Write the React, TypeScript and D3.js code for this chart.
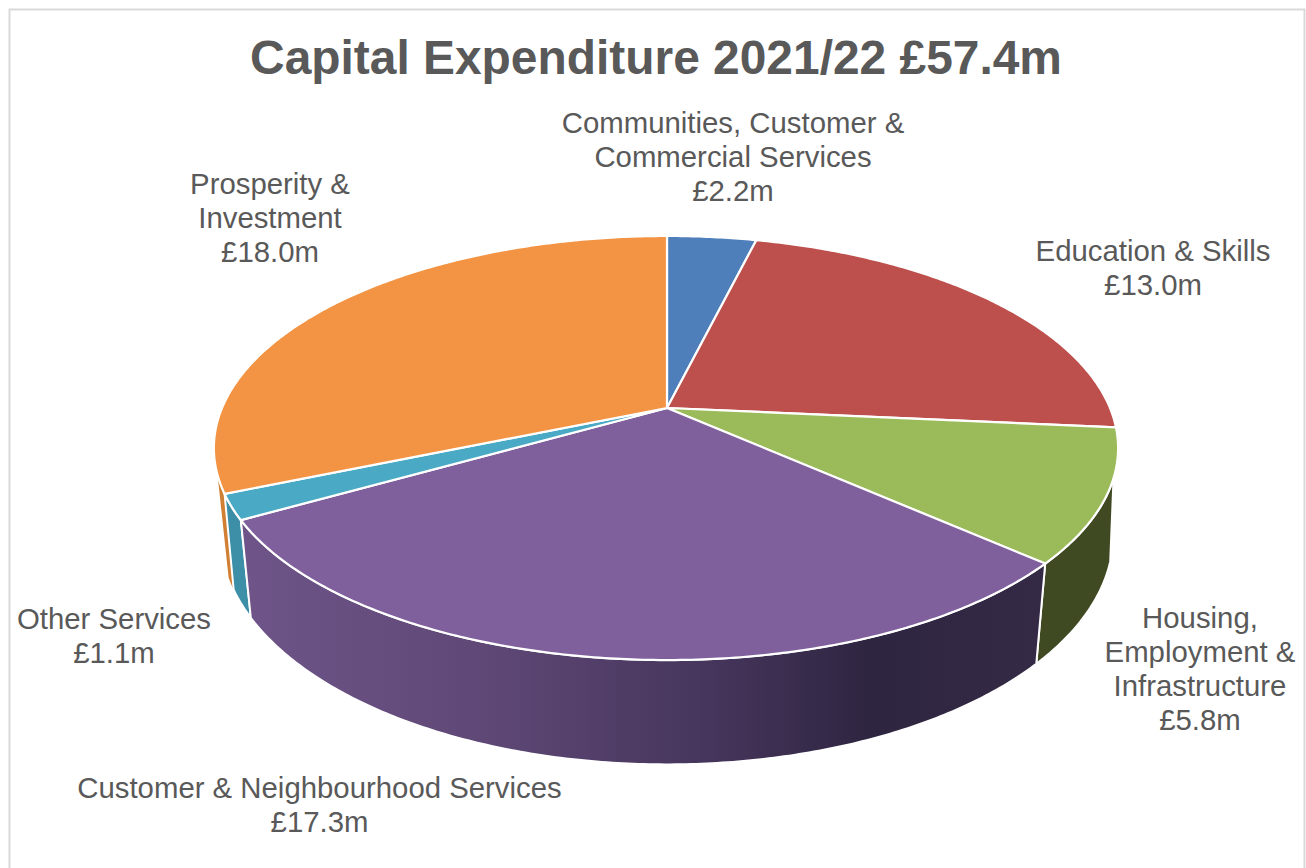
import React from "react";
import * as d3 from "d3";

const categories = [
  "Communities, Customer & Commercial Services",
  "Education & Skills",
  "Housing, Employment & Infrastructure",
  "Customer & Neighbourhood Services",
  "Other Services",
  "Prosperity & Investment",
];
const values = [2.2, 13.0, 5.8, 17.3, 1.1, 18.0];
const topColors = ["#4f7fbb", "#bd4f4c", "#9bba59", "#7f609c", "#4aaac5", "#f39444"];
const sideColors = ["#35557d", "#7e3533", "#3f4a22", "url(#purpleSide)", "#3d8fa8", "#d07f33"];
const labelLines = [
  ["Communities, Customer &", "Commercial Services", "£2.2m"],
  ["Education & Skills", "£13.0m"],
  ["Housing,", "Employment &", "Infrastructure", "£5.8m"],
  ["Customer & Neighbourhood Services", "£17.3m"],
  ["Other Services", "£1.1m"],
  ["Prosperity &", "Investment", "£18.0m"],
];
const labelAnchors: [number, number][] = [
  [733, 133], [1153, 261], [1200, 628], [319.5, 798], [114, 629], [270, 194],
];

const W = 1306, H = 868;
const topPlane = { cx: 667, cy: 408, a: 443, aLeft: 445, b: 204.5, k: -0.1887 };
const botPlane = { cx: 667, cy: 497, a: 440, aLeft: 440, b: 223, k: -0.166 };
const rad = Math.PI / 180;

function project(p: typeof topPlane, t: number): [number, number] {
  const X = Math.sin(t), Y = -Math.cos(t), d = 1 + p.k * Y;
  return [p.cx + ((X < 0 ? p.aLeft : p.a) * X) / d, p.cy + (p.b * Y) / d];
}
function arcPoints(p: typeof topPlane, a0: number, a1: number): [number, number][] {
  const n = Math.max(4, Math.ceil((a1 - a0) / 0.01));
  return d3.range(n + 1).map((i) => project(p, a0 + ((a1 - a0) * i) / n));
}

// angular range of each visible wall: on the top rim, then on the bottom rim
function wallPoints(i: number, a0: number, a1: number): [number, number][] {
  if (i === 5) {
    return [...arcPoints(topPlane, a0, 252 * rad), ...arcPoints(botPlane, a0, 250 * rad).reverse()];
  }
  if (i === 2) {
    return [...arcPoints(topPlane, 108.8 * rad, a1), ...arcPoints(botPlane, 106 * rad, a1).reverse()];
  }
  return [...arcPoints(topPlane, a0, a1), ...arcPoints(botPlane, a0, a1).reverse()];
}

export default function App() {
  const arcs = d3.pie<number>().sort(null)(values);
  const line = d3.line();
  const order = [5, 4, 2, 3];
  return (
    <svg width={W} height={H} style={{ position: "absolute", left: 0, top: 0, background: "#fff" }}
      fontFamily="'Liberation Sans', Arial, sans-serif">
      <defs>
        <linearGradient id="purpleSide" gradientUnits="userSpaceOnUse" x1="245" x2="1040" y1="0" y2="0">
          <stop offset="0" stopColor="#6e5488" />
          <stop offset="0.3" stopColor="#5f4876" />
          <stop offset="0.6" stopColor="#44345a" />
          <stop offset="0.79" stopColor="#2e2540" />
          <stop offset="1" stopColor="#352a45" />
        </linearGradient>
      </defs>
      <rect x={9.5} y={9.5} width={1295} height={880} fill="#fff" stroke="#d9d9d9" strokeWidth={2} />
      <text x={656} y={74} textAnchor="middle" fontSize={47.9} fontWeight={700} fill="#595959">
        Capital Expenditure 2021/22 £57.4m
      </text>
      {order.map((i) => {
        const s = arcs[i];
        return (
          <path key={"side" + i} d={line(wallPoints(i, s.startAngle, s.endAngle)) + "Z"} fill={sideColors[i]} stroke="#fff" strokeWidth={i === 5 ? 0 : 2} strokeLinejoin="round" />
        );
      })}
      {arcs.map((s, i) => {
        const pts: [number, number][] = [[topPlane.cx, topPlane.cy], ...arcPoints(topPlane, s.startAngle, s.endAngle)];
        return (
          <path key={"top" + i} d={line(pts) + "Z"} fill={topColors[i]} stroke="#fff" strokeWidth={2.2} strokeLinejoin="round">
            <title>{categories[i]}</title>
          </path>
        );
      })}
      {labelLines.map((ls, i) => (
        <text key={i} textAnchor="middle" fontSize={29.35} fill="#595959">
          {ls.map((l, j) => (
            <tspan key={j} x={labelAnchors[i][0]} y={labelAnchors[i][1] + j * 34}>{l}</tspan>
          ))}
        </text>
      ))}
    </svg>
  );
}
